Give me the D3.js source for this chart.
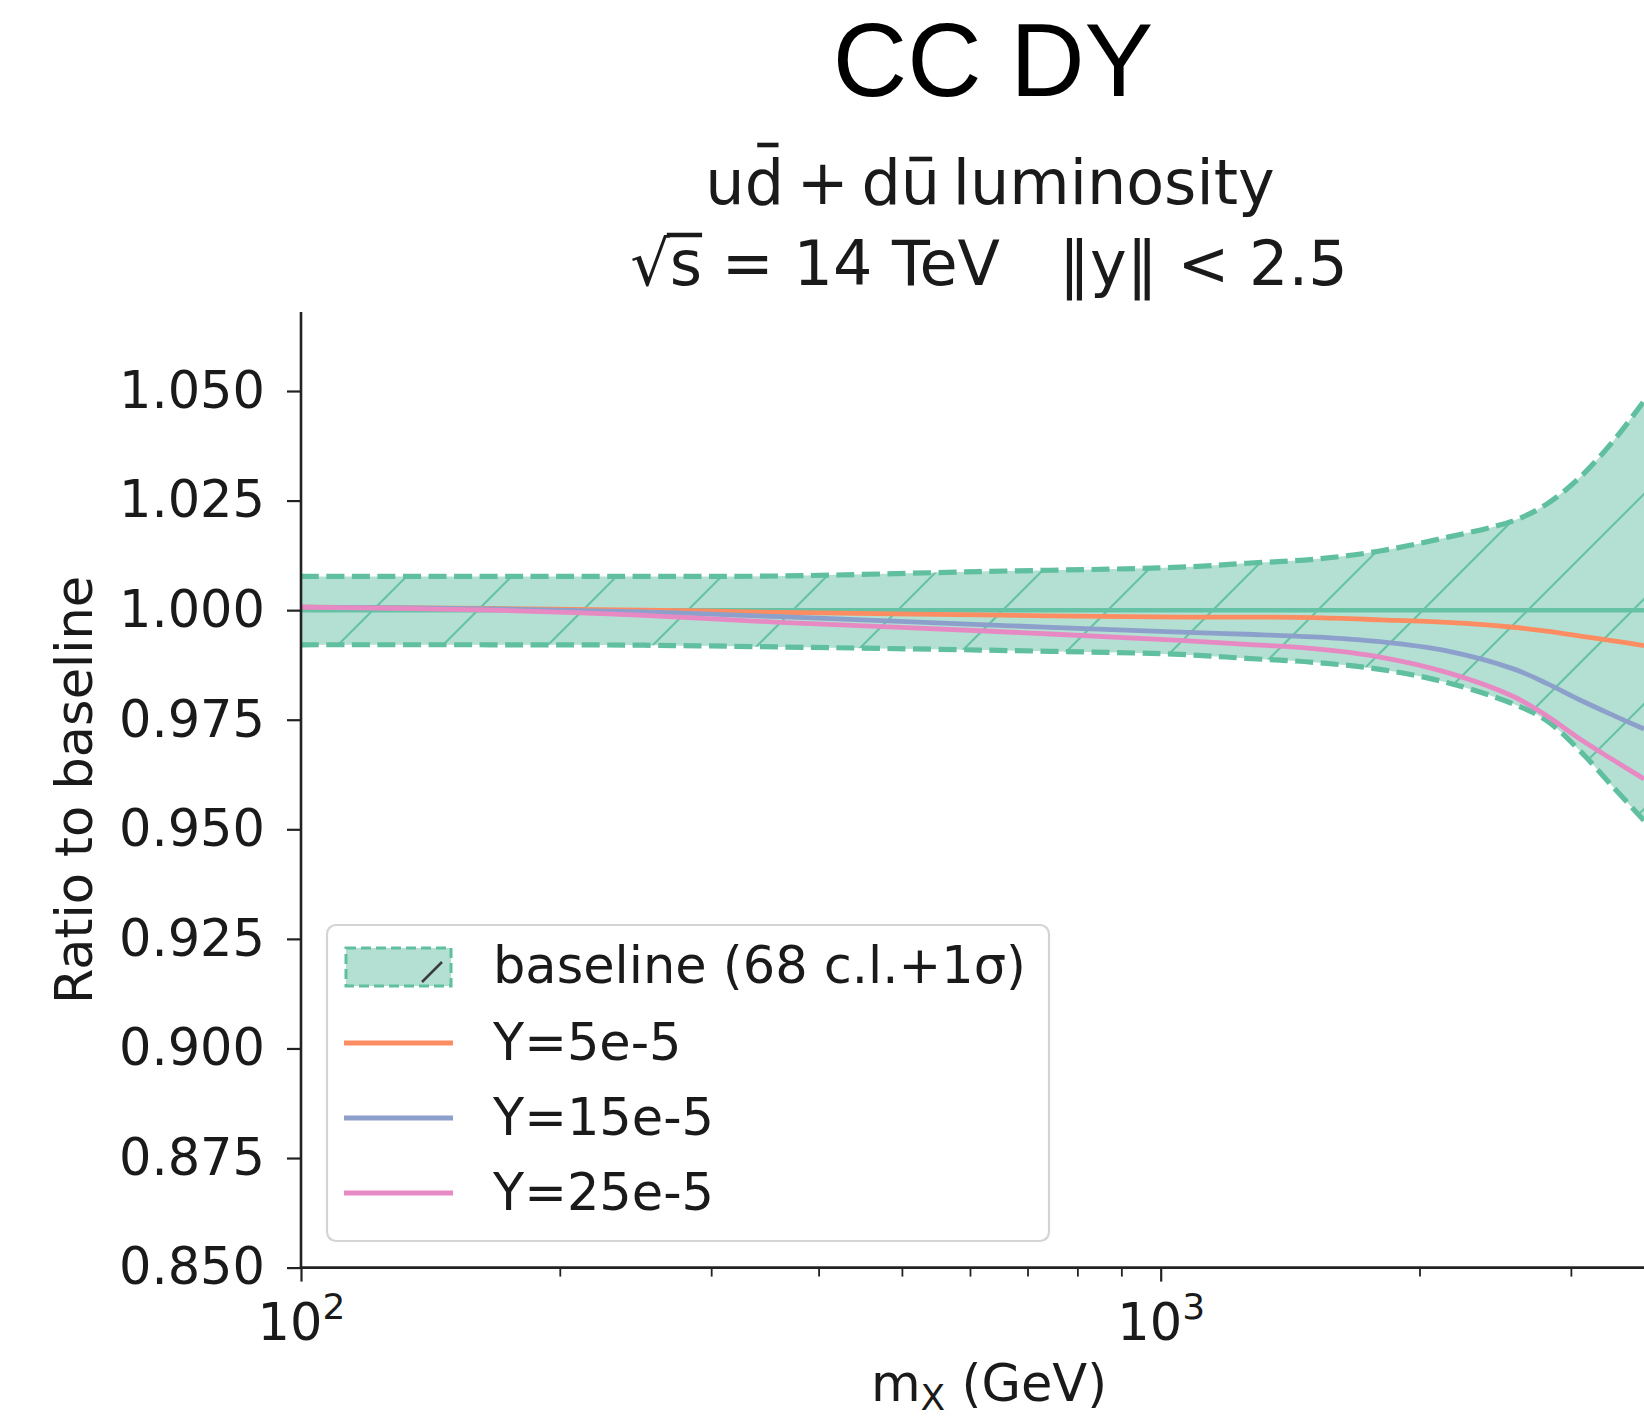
<!DOCTYPE html>
<html><head><meta charset="utf-8">
<script src="https://cdn.jsdelivr.net/npm/d3@7"></script>
<style>body{margin:0;background:#fff;} svg{display:block;font-family:"DejaVu Sans",sans-serif;}</style>
</head><body>
<svg id="c" width="1644" height="1418"></svg>
<script>
// ---- data ----
const massGeV      = [100, 166, 250, 361, 616, 1053, 1259, 1505, 1799, 2151, 2572, 2812, 3074, 3361, 3649];
const bandUpper    = [1.0077, 1.0077, 1.0077, 1.0078, 1.0088, 1.0098, 1.0107, 1.0116, 1.0135, 1.0166, 1.0204, 1.0242, 1.0303, 1.0386, 1.0477];
const bandLower    = [0.9921, 0.9921, 0.9920, 0.9916, 0.9909, 0.9899, 0.9890, 0.9881, 0.9865, 0.9835, 0.9786, 0.9748, 0.9679, 0.9596, 0.9520];
const bandCentral  = [1.000, 1.000, 1.000, 1.000, 1.000, 1.000, 1.000, 1.000, 1.000, 1.000, 1.000, 1.000, 1.000, 1.000, 1.000];
const seriesY5     = [1.0007, 1.0004, 1.0000, 0.9995, 0.9989, 0.9984, 0.9984, 0.9983, 0.9978, 0.9972, 0.9961, 0.9952, 0.9941, 0.9930, 0.9919];
const seriesY15    = [1.0007, 1.0003, 0.9996, 0.9985, 0.9967, 0.9950, 0.9945, 0.9939, 0.9928, 0.9907, 0.9866, 0.9833, 0.9795, 0.9760, 0.9729];
const seriesY25    = [1.0007, 1.0000, 0.9988, 0.9972, 0.9953, 0.9931, 0.9922, 0.9912, 0.9893, 0.9858, 0.9803, 0.9759, 0.9706, 0.9658, 0.9615];
const seriesNames  = ["Y=5e-5", "Y=15e-5", "Y=25e-5"];
const bandName     = "baseline (68 c.l.+1σ)";
const yTicks       = [0.850, 0.875, 0.900, 0.925, 0.950, 0.975, 1.000, 1.025, 1.050];
const xMajorTicks  = [100, 1000];
const xMajorExp    = ["2", "3"];
const xMinorTicks  = [200, 300, 400, 500, 600, 700, 800, 900, 2000, 3000];
const yLimits      = [0.85, 1.068];

// ---- styles ----
const C = {band:"#b3e0d2", edge:"#5fbf9f", central:"#66c2a5", hatch:"#66c2a5",
           s:["#fc8d62","#8da0cb","#e78ac3"], axis:"#222", text:"#1a1a1a"};
const svg = d3.select("#c");
const L = 301, B = 1267.6, decade = 859.7;
const x = d3.scaleLog().domain([100, 10000]).range([L, L + 2*decade]);
const y = d3.scaleLinear().domain([0.85, 1.05]).range([B, 391]);
const T = y(yLimits[1]);
const curve = d3.curveCatmullRom.alpha(0.5);

const defs = svg.append("defs");
const pat = defs.append("pattern").attr("id","hatch").attr("patternUnits","userSpaceOnUse")
  .attr("width",105).attr("height",105).attr("patternTransform","translate(38,0)");
pat.append("path").attr("d","M-10,10 L10,-10 M0,105 L105,0 M95,115 L115,95")
  .attr("stroke",C.hatch).attr("stroke-width",2.2).attr("fill","none");
defs.append("clipPath").attr("id","plotclip").append("rect")
  .attr("x",L).attr("y",T).attr("width",1644-L).attr("height",B-T);

const plot = svg.append("g").attr("clip-path","url(#plotclip)");
const idx = d3.range(massGeV.length);
const area = d3.area().x(i=>x(massGeV[i])).y0(i=>y(bandLower[i])).y1(i=>y(bandUpper[i])).curve(curve);
plot.append("path").attr("d",area(idx)).attr("fill",C.band);
plot.append("path").attr("d",area(idx)).attr("fill","url(#hatch)");
const lineOf = arr => d3.line().x(i=>x(massGeV[i])).y(i=>y(arr[i])).curve(curve)(idx);
[bandUpper, bandLower].forEach(a=>plot.append("path").attr("d",lineOf(a)).attr("fill","none")
  .attr("stroke",C.edge).attr("stroke-width",5.2).attr("stroke-dasharray","18,7.5"));
plot.append("path").attr("d",lineOf(bandCentral)).attr("fill","none").attr("stroke",C.central).attr("stroke-width",4.5);
[seriesY5, seriesY15, seriesY25].forEach((a,k)=>plot.append("path").attr("d",lineOf(a)).attr("fill","none")
  .attr("stroke",C.s[k]).attr("stroke-width",4.8));

// ---- axes ----
const yAx = svg.append("g").attr("transform",`translate(${L},0)`)
  .call(d3.axisLeft(y).tickValues(yTicks).tickFormat(d3.format(".3f")).tickSize(14).tickPadding(22));
yAx.select(".domain").remove();
yAx.selectAll("line").attr("stroke",C.axis).attr("stroke-width",2.2);
yAx.selectAll("text").attr("font-size",51).attr("font-family","DejaVu Sans").attr("fill",C.text);

const xAx = svg.append("g").attr("transform",`translate(0,${B})`)
  .call(d3.axisBottom(x).tickValues(xMajorTicks).tickFormat("").tickSize(14));
xAx.select(".domain").remove();
xAx.selectAll("line").attr("stroke",C.axis).attr("stroke-width",2.2);
xAx.selectAll(".tick").each(function(d,i){
  const t = d3.select(this).append("text").attr("y",72).attr("text-anchor","middle")
    .attr("font-size",51).attr("fill",C.text).attr("font-family","DejaVu Sans");
  t.append("tspan").text("10");
  t.append("tspan").attr("font-size",36).attr("dy",-21).text(xMajorExp[i]);
});
const xMin = svg.append("g").attr("transform",`translate(0,${B})`)
  .call(d3.axisBottom(x).tickValues(xMinorTicks).tickFormat("").tickSize(9));
xMin.select(".domain").remove();
xMin.selectAll("line").attr("stroke",C.axis).attr("stroke-width",1.8);

svg.append("line").attr("x1",L).attr("x2",L).attr("y1",T).attr("y2",B+1.2).attr("stroke",C.axis).attr("stroke-width",2.6);
svg.append("line").attr("x1",L-1.3).attr("x2",1644).attr("y1",B).attr("y2",B).attr("stroke",C.axis).attr("stroke-width",2.6);

// ---- labels ----
svg.append("text").attr("x",993).attr("y",96).attr("text-anchor","middle")
  .attr("font-family","Liberation Sans, Arial, sans-serif").attr("font-size",103).attr("fill","#000").text("CC DY");

const sub1 = svg.append("text").attr("x",990).attr("y",204).attr("text-anchor","middle")
  .attr("font-size",62).attr("fill",C.text).style("word-spacing","-7px")
  .text("ud + du luminosity");
const sub2 = svg.append("text").attr("x",989).attr("y",285).attr("text-anchor","middle")
  .attr("font-size",62).attr("fill",C.text).attr("xml:space","preserve").style("white-space","pre")
  .text("√s = 14 TeV   ‖y‖ < 2.5");
// bars (d̄, ū) and the root's vinculum
function bar(el, i, yTop, thick, frac0, frac1){
  const e = el.node().getExtentOfChar(i);
  svg.append("line").attr("x1",e.x + e.width*frac0).attr("x2",e.x + e.width*frac1)
    .attr("y1",yTop).attr("y2",yTop).attr("stroke",C.text).attr("stroke-width",thick);
}
bar(sub1, 1, 145, 4.6, 0.32, 0.86);
bar(sub1, 6, 159, 4.6, 0.22, 0.80);
{
  const r = sub2.node().getExtentOfChar(0), s = sub2.node().getExtentOfChar(1);
  svg.append("line").attr("x1",r.x + r.width - 3).attr("x2",s.x + s.width)
    .attr("y1",235).attr("y2",235).attr("stroke",C.text).attr("stroke-width",4.4);
}

svg.append("text").attr("transform","translate(92,790) rotate(-90)").attr("text-anchor","middle")
  .attr("font-size",51).attr("fill",C.text).text("Ratio to baseline");
const xl = svg.append("text").attr("x",989).attr("y",1401).attr("text-anchor","middle")
  .attr("font-size",51).attr("fill",C.text);
xl.append("tspan").text("m");
xl.append("tspan").attr("font-size",36).attr("dy",9).text("X");
xl.append("tspan").attr("dy",-9).text(" (GeV)");

// ---- legend ----
const lg = svg.append("g");
lg.append("rect").attr("x",327).attr("y",925).attr("width",722).attr("height",316).attr("rx",9)
  .attr("fill","#fff").attr("fill-opacity",0.8).attr("stroke","#d4d4d4").attr("stroke-width",2.2);
lg.append("rect").attr("x",346).attr("y",948).attr("width",105).attr("height",38)
  .attr("fill",C.band).attr("stroke",C.edge).attr("stroke-width",3).attr("stroke-dasharray","10,5");
lg.append("line").attr("x1",422).attr("y1",982).attr("x2",442).attr("y2",962).attr("stroke","#3c3c3c").attr("stroke-width",2.5);
lg.append("text").attr("x",493).attr("y",983).attr("font-size",51).attr("fill",C.text).text(bandName);
const rowY = [1043, 1118, 1193];
seriesNames.forEach((n,k)=>{
  lg.append("line").attr("x1",344).attr("x2",453).attr("y1",rowY[k]).attr("y2",rowY[k])
    .attr("stroke",C.s[k]).attr("stroke-width",4.8);
  lg.append("text").attr("x",493).attr("y",rowY[k]+17).attr("font-size",51).attr("fill",C.text).text(n);
});
</script>
</body></html>
